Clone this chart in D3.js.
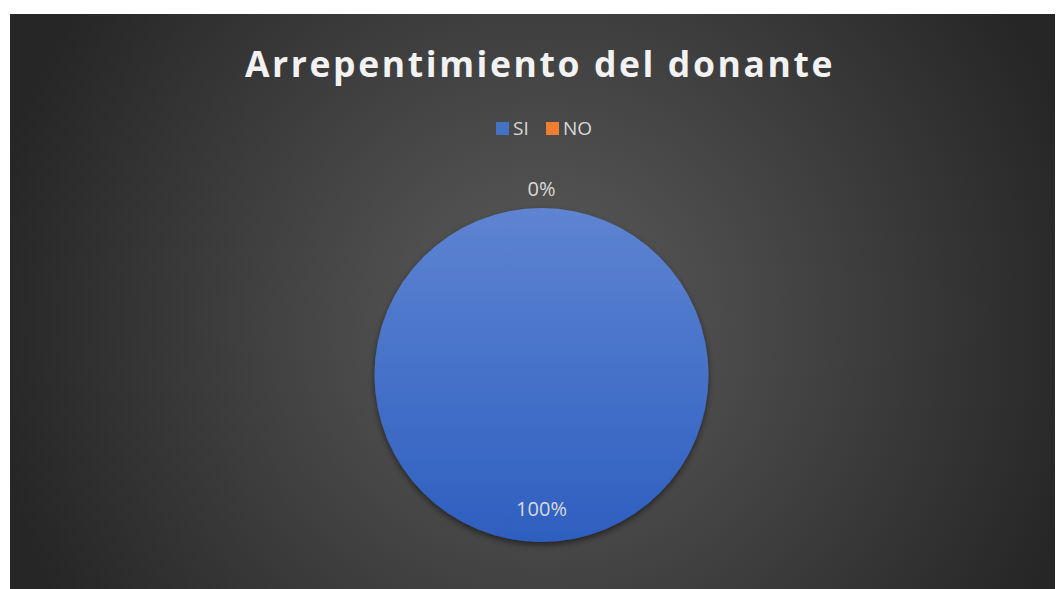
<!DOCTYPE html>
<html>
<head>
<meta charset="utf-8">
<script src="https://cdn.jsdelivr.net/npm/d3@7"></script>
<style>
  body { margin: 0; background: #fff; }
  svg { display: block; }
  text { font-family: "Open Sans", "Noto Sans", sans-serif; }
</style>
</head>
<body>
<div id="chart"></div>
<script>
// data
const categories = ["SI", "NO"];
const values = [100, 0];
const colors = ["#4472c4", "#ed7d31"];
const chartTitle = "Arrepentimiento del donante";

/** CONSTANTS */
const width = 1057;
const height = 589;
const frame = {x: 10, y: 14, w: 1045, h: 575};
const cx = 541.5, cy = 375, radius = 167;

const svg = d3.select("#chart")
  .append("svg")
  .attr("width", width)
  .attr("height", height);

const defs = svg.append("defs");

// background gradient
const bg = defs.append("radialGradient")
  .attr("id", "bg")
  .attr("gradientUnits", "userSpaceOnUse")
  .attr("cx", cx).attr("cy", 320).attr("r", 560);
bg.append("stop").attr("offset", "0%").attr("stop-color", "#5c5c5c");
bg.append("stop").attr("offset", "100%").attr("stop-color", "#262626");

// pie slice gradients (lighter on top, deeper below)
const sliceStops = [["#5e84d2", "#2e5fc0"], ["#f39254", "#e06c1e"]];
const sliceGrad = sliceStops.map((s, i) => {
  const g = defs.append("linearGradient")
    .attr("id", "slice" + i)
    .attr("x1", 0).attr("y1", 0).attr("x2", 0).attr("y2", 1);
  g.append("stop").attr("offset", "0%").attr("stop-color", s[0]);
  g.append("stop").attr("offset", "100%").attr("stop-color", s[1]);
  return "url(#slice" + i + ")";
});

const shadow = defs.append("filter").attr("id", "shadow")
  .attr("x", "-20%").attr("y", "-20%").attr("width", "140%").attr("height", "140%");
shadow.append("feDropShadow")
  .attr("dx", 0).attr("dy", 3).attr("stdDeviation", 3)
  .attr("flood-color", "#000").attr("flood-opacity", 0.5);

svg.append("rect")
  .attr("x", frame.x).attr("y", frame.y)
  .attr("width", frame.w).attr("height", frame.h)
  .attr("fill", "url(#bg)");

// title
svg.append("text")
  .attr("x", 540)
  .attr("y", 77)
  .attr("text-anchor", "middle")
  .attr("font-size", 35.5)
  .attr("font-weight", "bold")
  .attr("letter-spacing", "2.6px")
  .attr("fill", "#f2f2f2")
  .text(chartTitle);

// legend
const legendX = d3.scalePoint().domain(categories).range([496, 546]);
const legend = svg.selectAll("g.legend")
  .data(categories)
  .join("g")
  .attr("class", "legend")
  .attr("transform", d => `translate(${legendX(d)}, 122)`);
legend.append("rect")
  .attr("width", 13).attr("height", 13)
  .attr("fill", (d, i) => colors[i]);
legend.append("text")
  .attr("x", 17).attr("y", 13)
  .attr("font-size", 19)
  .attr("fill", "#d9d9d9")
  .text(d => d);

/** PIE */
const data = categories.map((c, i) => ({name: c, value: values[i]}));
const pie = d3.pie().value(d => d.value).sort(null);
const arcs = pie(data);
const arc = d3.arc().innerRadius(0).outerRadius(radius);
const total = d3.sum(values);

const g = svg.append("g").attr("transform", `translate(${cx}, ${cy})`);

g.selectAll("path")
  .data(arcs)
  .join("path")
  .attr("d", arc)
  .attr("fill", (d, i) => sliceGrad[i])
  .attr("filter", "url(#shadow)");

// labels: zero slices outside end, others inside end
const inside = d3.arc().innerRadius(radius * 0.8).outerRadius(radius * 0.8);
const outside = d3.arc().innerRadius(radius + 19).outerRadius(radius + 19);
g.selectAll("text.pct")
  .data(arcs)
  .join("text")
  .attr("class", "pct")
  .attr("transform", d => `translate(${(d.value === 0 ? outside : inside).centroid(d)})`)
  .attr("text-anchor", "middle")
  .attr("dy", "0.35em")
  .attr("font-size", 20)
  .attr("fill", "#d9d9d9")
  .text(d => d3.format(".0%")(d.value / total));
</script>
</body>
</html>
